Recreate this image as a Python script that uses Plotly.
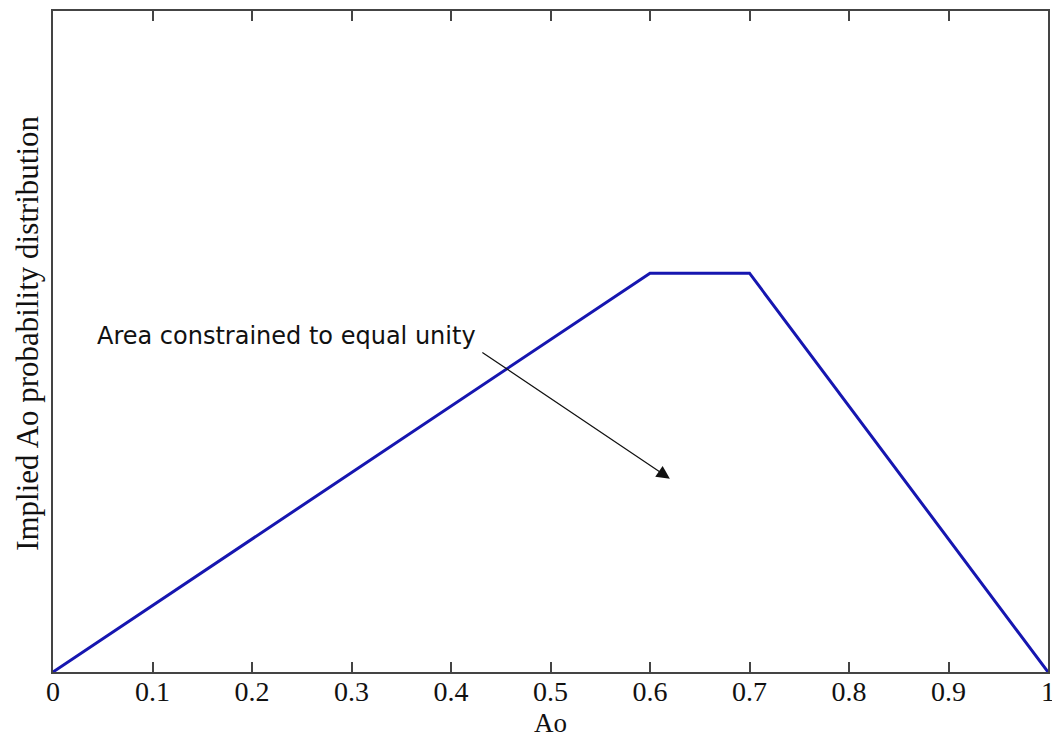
import plotly.graph_objects as go

# Data
ao_x = [0.0, 0.6, 0.7, 1.0]
density_y = [0.0, 1.81, 1.81, 0.0]
x_ticks = [0, 0.1, 0.2, 0.3, 0.4, 0.5, 0.6, 0.7, 0.8, 0.9, 1]
x_tick_labels = ["0", "0.1", "0.2", "0.3", "0.4", "0.5", "0.6", "0.7", "0.8", "0.9", "1"]

fig = go.Figure()
fig.add_trace(go.Scatter(x=ao_x, y=density_y, mode="lines",
                         line=dict(color="#1616b0", width=3), showlegend=False,
                         hoverinfo="skip", cliponaxis=False))

axis_common = dict(showline=True, linecolor="#444444", linewidth=1.5, mirror="ticks",
                   showgrid=False, zeroline=False)

fig.update_xaxes(range=[0, 1], tickvals=x_ticks, ticktext=x_tick_labels,
                 ticks="inside", ticklen=10, tickwidth=1.5, tickcolor="#444444",
                 ticklabelstandoff=-6, ticklabeloverflow="allow",
                 tickfont=dict(family="Liberation Serif", size=28, color="#111111"),
                 **axis_common)
fig.update_yaxes(range=[0, 3], showticklabels=False, ticks="", **axis_common)

fig.add_annotation(xref="paper", yref="paper", x=0.5, y=-0.077, text="Ao",
                   showarrow=False,
                   font=dict(family="Liberation Serif", size=27, color="#111111"),
                   xanchor="center", yanchor="middle")
fig.add_annotation(xref="paper", yref="paper", x=-0.0252, y=0.513,
                   text="Implied Ao probability distribution", textangle=-90,
                   showarrow=False,
                   font=dict(family="Liberation Serif", size=31, color="#111111"),
                   xanchor="center", yanchor="middle")

fig.add_annotation(x=0.042, y=1.523, xref="x", yref="y",
                   text="Area constrained to equal unity", showarrow=False,
                   xanchor="left", yanchor="middle",
                   font=dict(family="DejaVu Sans", size=24, color="#111111"))
fig.add_annotation(x=0.62, y=0.877, ax=0.43, ay=1.455, xref="x", yref="y",
                   axref="x", ayref="y", text="", showarrow=True,
                   arrowhead=2, arrowsize=2.2, arrowwidth=1.2, arrowcolor="#111111")

fig.update_layout(width=1052, height=730, margin=dict(l=45, r=12, t=1, b=66),
                  plot_bgcolor="white", paper_bgcolor="white")

fig.write_html("out.html")
